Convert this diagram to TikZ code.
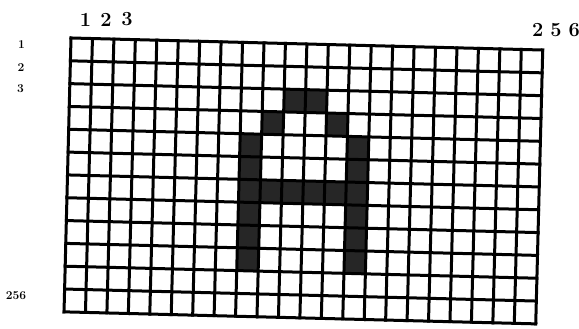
\documentclass[tikz,border=0pt]{standalone}
\usetikzlibrary{positioning}
\begin{document}
\begin{tikzpicture}[x=1pt,y=1pt,
    gridline/.style={line width=3pt, line cap=rect, black},
    pixel/.style={fill=black!85},
    colnum/.style={font=\fontsize{20}{20}\selectfont\bfseries, inner sep=0pt},
    rownum/.style={font=\fontsize{12}{12}\selectfont\bfseries, inner sep=0pt}]
    \useasboundingbox[fill=white] (0,0) rectangle (579,329);
    
    % column numbers
    \node[colnum] (col1) at (85.5,309.5) {1};
    \node[colnum] (col2) at (106,309.5) {2};
    \node[colnum] (col3) at (127,309.5) {3};
    \node[colnum] (colend) at (556,299) {2\hspace{0.35em}5\hspace{0.35em}6};
    
    % row numbers
    \node[rownum] (row1) at (21.5,284) {1};
    \node[rownum] (row2) at (21,261.5) {2};
    \node[rownum] (row3) at (20.5,240) {3};
    \node[rownum] (rowend) at (16,33) {256};
    
    % raster, slightly turned like the scan
    \begin{scope}[shift={(71,291)}, rotate=-1.46, x=21.45pt, y=22.83pt]
        % dark pixels of the letter A
        \foreach \c/\r in {10/2,11/2,9/3,12/3,9/6,10/6,11/6,12/6}
            \fill[pixel] (\c,-\r) rectangle ++(1,-1);
        \foreach \r in {4,...,9} {
            \fill[pixel] (8,-\r) rectangle ++(1,-1);
            \fill[pixel] (13,-\r) rectangle ++(1,-1);
        }
        % grid lines
        \foreach \c in {0,...,22}
            \draw[gridline] (\c,0) -- (\c,-12);
        \foreach \r in {0,...,12}
            \draw[gridline] (0,-\r) -- (22,-\r);
    \end{scope}
\end{tikzpicture}
\end{document}
